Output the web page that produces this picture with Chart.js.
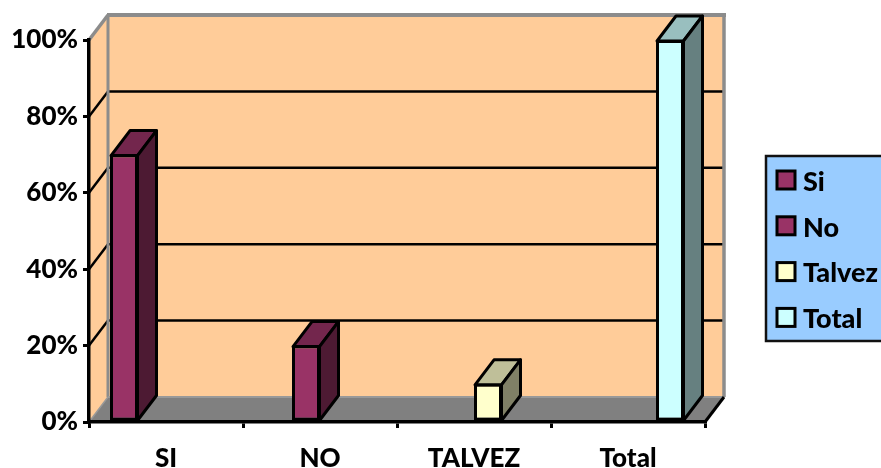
<!DOCTYPE html>
<html>
<head>
<meta charset="utf-8">
<style>html,body{margin:0;padding:0;background:#fff}canvas{display:block}</style>
<script src="https://cdn.jsdelivr.net/npm/chart.js@4/dist/chart.umd.js"></script>
</head>
<body>
<canvas id="c" width="881" height="468"></canvas>
<script>
const categories = ['SI', 'NO', 'TALVEZ', 'Total'];
const siValues = [70, null, null, null];
const noValues = [null, 20, null, null];
const talvezValues = [null, null, 10, null];
const totalValues = [null, null, null, 100];
const seriesNames = ['Si', 'No', 'Talvez', 'Total'];
const seriesColors = ['#993366', '#993366', '#FFFFCC', '#CCFFFF'];

const FONT = 'Lato, Carlito, sans-serif';
const DEPTH_X = 19, DEPTH_Y = -25;

function shade(hex, f) {
  const n = parseInt(hex.slice(1), 16);
  const c = s => Math.round(((n >> s) & 255) * f);
  return `rgb(${c(16)},${c(8)},${c(0)})`;
}
function poly(ctx, pts, fill, stroke, lw) {
  ctx.beginPath();
  pts.forEach((p, i) => i ? ctx.lineTo(p[0], p[1]) : ctx.moveTo(p[0], p[1]));
  ctx.closePath();
  if (fill) { ctx.fillStyle = fill; ctx.fill(); }
  if (stroke) { ctx.strokeStyle = stroke; ctx.lineWidth = lw; ctx.lineJoin = 'round'; ctx.stroke(); }
}
function line(ctx, x1, y1, x2, y2, color, lw) {
  ctx.beginPath(); ctx.moveTo(x1, y1); ctx.lineTo(x2, y2);
  ctx.strokeStyle = color; ctx.lineWidth = lw; ctx.lineCap = 'butt'; ctx.stroke();
}

// Back wall, side wall, floor and the gridlines of the box behind the columns
const boxPlugin = {
  id: 'box3d',
  beforeDraw(chart) {
    const { ctx, chartArea: a, scales: { y } } = chart;
    const dx = DEPTH_X, dy = DEPTH_Y;
    ctx.save();
    poly(ctx, [[a.left + dx, a.top + dy], [a.right + dx, a.top + dy], [a.right + dx, a.bottom + dy], [a.left + dx, a.bottom + dy]], '#FFCC99');
    poly(ctx, [[a.left, a.top], [a.left + dx, a.top + dy], [a.left + dx, a.bottom + dy], [a.left, a.bottom]], '#FFCC99');
    poly(ctx, [[a.left, a.bottom], [a.left + dx, a.bottom + dy], [a.right + dx, a.bottom + dy], [a.right, a.bottom]], '#808080');
    y.ticks.forEach(t => {
      if (t.value === 0 || t.value === 100) return;
      const py = y.getPixelForValue(t.value);
      line(ctx, a.left, py, a.left + dx, py + dy, '#000', 2.5);
      line(ctx, a.left + dx, py + dy, a.right + dx, py + dy, '#000', 2.5);
    });
    line(ctx, a.left, a.top, a.left + dx, a.top + dy, '#8C8C8C', 3.5);
    line(ctx, a.left + dx - 1, a.top + dy, a.right + dx + 2, a.top + dy, '#8C8C8C', 4);
    line(ctx, a.left + dx, a.top + dy, a.left + dx, a.bottom + dy, '#8C8C8C', 3);
    line(ctx, a.right + dx, a.top + dy, a.right + dx, a.bottom + dy, '#8C8C8C', 3.5);
    line(ctx, a.left + dx, a.bottom + dy, a.right + dx, a.bottom + dy, '#999999', 2);
    line(ctx, a.left, a.bottom, a.left + dx, a.bottom + dy, '#999999', 1.5);
    line(ctx, a.right, a.bottom, a.right + dx, a.bottom + dy, '#000', 3);
    ctx.restore();
  },
  // Top and side faces of every column, from the bar the library laid out
  afterDatasetsDraw(chart) {
    const { ctx } = chart;
    const dx = DEPTH_X, dy = DEPTH_Y;
    ctx.save();
    chart.data.datasets.forEach((ds, i) => {
      chart.getDatasetMeta(i).data.forEach((bar, j) => {
        if (ds.data[j] == null) return;
        const p = bar.getProps(['x', 'y', 'base', 'width'], true);
        const l = p.x - p.width / 2 + 1, r = p.x + p.width / 2 - 0.5, t = p.y + 1, b = p.base;
        poly(ctx, [[l, t], [l + dx, t + dy], [r + dx, t + dy], [r, t]], shade(ds.backgroundColor, 0.75), '#000', 3);
        poly(ctx, [[r, t], [r + dx, t + dy], [r + dx, b + dy], [r, b]], shade(ds.backgroundColor, 0.5), '#000', 3);
      });
    });
    ctx.restore();
  },
  // Legend panel on the right, running off the edge of the canvas
  afterDraw(chart) {
    const { ctx } = chart;
    ctx.save();
    ctx.fillStyle = '#99CCFF';
    ctx.fillRect(766, 156, 120, 185);
    ctx.strokeStyle = '#111'; ctx.lineWidth = 2.5;
    ctx.strokeRect(766, 156, 120, 185);
    ctx.font = '900 27px ' + FONT;
    ctx.textBaseline = 'middle';
    chart.data.datasets.forEach((ds, i) => {
      const y = 171 + i * 45.8;
      ctx.fillStyle = ds.backgroundColor;
      ctx.fillRect(777, y, 18, 18);
      ctx.strokeStyle = '#000'; ctx.lineWidth = 3;
      ctx.strokeRect(777, y, 18, 18);
      ctx.fillStyle = '#000';
      ctx.fillText(ds.label, 803, y + 11);
    });
    ctx.restore();
  }
};

const allValues = [siValues, noValues, talvezValues, totalValues];

new Chart(document.getElementById('c'), {
  type: 'bar',
  plugins: [boxPlugin],
  data: {
    labels: categories,
    datasets: allValues.map((data, i) => ({
      label: seriesNames[i],
      data,
      backgroundColor: seriesColors[i],
      borderColor: '#000',
      borderWidth: 3,
      borderSkipped: false,
      categoryPercentage: 112 / 154,
      barPercentage: 1,
      clip: false
    }))
  },
  options: {
    responsive: false,
    animation: false,
    layout: { padding: { left: 0, top: 40, right: 176, bottom: 0 } },
    plugins: { legend: { display: false }, tooltip: { enabled: false } },
    scales: {
      x: {
        afterFit(s) { s.height = 46; },
        border: { color: '#000', width: 3.5 },
        grid: { display: true, drawOnChartArea: false, drawTicks: true, tickLength: 6, color: '#000', lineWidth: 3 },
        ticks: { color: '#000', font: { family: FONT, weight: '900', size: 26 }, padding: 15, maxRotation: 0 }
      },
      y: {
        min: 0, max: 100,
        afterFit(s) { s.width = 89; },
        border: { color: '#000', width: 3.5 },
        grid: { display: true, drawOnChartArea: false, drawTicks: true, tickLength: 6, color: '#000', lineWidth: 3 },
        ticks: { stepSize: 20, color: '#000', font: { family: FONT, weight: '900', size: 26 }, padding: 5, callback: v => v + '%' }
      }
    }
  }
});
</script>
</body>
</html>
